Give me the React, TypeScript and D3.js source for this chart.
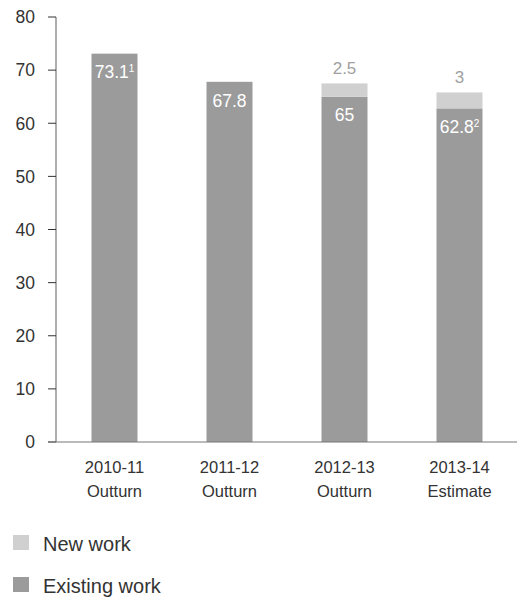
import React from "react";
import * as d3 from "d3";

const categories = ["2010-11|Outturn", "2011-12|Outturn", "2012-13|Outturn", "2013-14|Estimate"];
const existingWork = [73.1, 67.8, 65, 62.8];
const newWork = [0, 0, 2.5, 3];
const existingLabels = ["73.1", "67.8", "65", "62.8"];
const existingSup = ["1", "", "", "2"];
const newLabels = ["", "", "2.5", "3"];
const yTicks = [0, 10, 20, 30, 40, 50, 60, 70, 80];

const W = 523;
const H = 599;
const FONT = "'Liberation Sans', Arial, sans-serif";
const C_EXIST = "#9b9b9b";
const C_NEW = "#d0d0d0";
const AXIS = "#777";
const TEXT = "#333";

export default function App() {
  const x = d3.scaleBand<string>().domain(categories).range([57, 517]).paddingInner(0.6).paddingOuter(0.3);
  const y = d3.scaleLinear().domain([0, 80]).range([442, 17]);
  const bw = x.bandwidth();

  return (
    <svg width={W} height={H} style={{ position: "absolute", left: 0, top: 0, fontFamily: FONT }}>
      {/* y axis */}
      <line x1={56} x2={56} y1={y(80)} y2={y(0)} stroke={AXIS} strokeWidth={1.2} />
      {yTicks.map((t) => (
        <g key={t}>
          <line x1={48} x2={56} y1={y(t)} y2={y(t)} stroke={TEXT} strokeWidth={1} />
          <text x={35} y={y(t)} dy="0.36em" textAnchor="end" fontSize={17.5} fill={TEXT}>
            {t}
          </text>
        </g>
      ))}
      {/* bars */}
      {categories.map((c, i) => {
        const x0 = x(c)!;
        const cx = x0 + bw / 2;
        const [l1, l2] = c.split("|");
        return (
          <g key={c}>
            <rect x={x0} width={bw} y={y(existingWork[i])} height={y(0) - y(existingWork[i])} fill={C_EXIST} />
            {newWork[i] > 0 && (
              <rect
                x={x0}
                width={bw}
                y={y(existingWork[i] + newWork[i])}
                height={y(existingWork[i]) - y(existingWork[i] + newWork[i])}
                fill={C_NEW}
              />
            )}
            <text x={cx} y={y(existingWork[i]) + 24.8} textAnchor="middle" fontSize={17.5} fill="#fff">
              {existingLabels[i]}
              {existingSup[i] && (
                <tspan fontSize={10} dy={-6.5}>
                  {existingSup[i]}
                </tspan>
              )}
            </text>
            {newLabels[i] && (
              <text x={cx} y={y(existingWork[i] + newWork[i]) - 9.2} textAnchor="middle" fontSize={17} fill="#a0a0a0">
                {newLabels[i]}
              </text>
            )}
            <text x={cx} y={473} textAnchor="middle" fontSize={16.5} fill={TEXT}>
              {l1}
            </text>
            <text x={cx} y={497} textAnchor="middle" fontSize={16.5} fill={TEXT}>
              {l2}
            </text>
          </g>
        );
      })}
      {/* x axis */}
      <line x1={48} x2={517} y1={y(0)} y2={y(0)} stroke={AXIS} strokeWidth={1.2} />
      {/* legend */}
      <rect x={13} y={535} width={16} height={15} fill={C_NEW} />
      <text x={43} y={551} fontSize={20} fill={TEXT}>New work</text>
      <rect x={13} y={577} width={16} height={15} fill={C_EXIST} />
      <text x={43} y={593} fontSize={20} fill={TEXT}>Existing work</text>
    </svg>
  );
}
